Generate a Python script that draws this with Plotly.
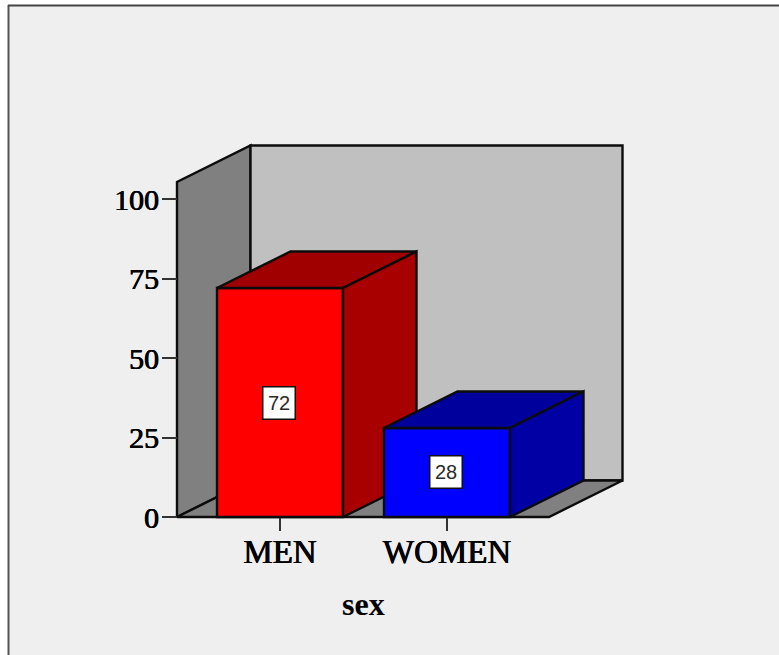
import plotly.graph_objects as go

# Chart data
categories = ["MEN", "WOMEN"]
percentages = [72, 28]
y_ticks = [0, 25, 50, 75, 100]

# Colours per bar: front, top, side
front_colors = ["#ff0000", "#0000ff"]
top_colors = ["#a00000", "#00009c"]
side_colors = ["#a80000", "#0000a4"]

# Canvas and axis geometry, in pixels
WIDTH, HEIGHT = 779, 655
AXIS_LEFT, AXIS_RIGHT, AXIS_BOTTOM, AXIS_TOP = 177, 549, 517, 182
PLOT_LEFT, PLOT_RIGHT, PLOT_BOTTOM, PLOT_TOP = 170, 630, 524, 138
CATEGORY_PX = 167
FIRST_CATEGORY_PX = 280
VALUE_PX = 3.18
OUTLINE = "#0c0c0c"


def x_at(px):
    return (px - FIRST_CATEGORY_PX) / CATEGORY_PX


def y_at(px):
    return (AXIS_BOTTOM - px) / VALUE_PX


x_range = [x_at(PLOT_LEFT), x_at(PLOT_RIGHT)]
y_range = [y_at(PLOT_BOTTOM), y_at(PLOT_TOP)]
x_domain = [PLOT_LEFT / WIDTH, PLOT_RIGHT / WIDTH]
y_domain = [(HEIGHT - PLOT_BOTTOM) / HEIGHT, (HEIGHT - PLOT_TOP) / HEIGHT]

# Oblique depth of the box, in axis units
depth_x = 73.5 / CATEGORY_PX
depth_y = 36.5 / VALUE_PX
bar_width = 126 / CATEGORY_PX


def polygon(xs, ys, fill, xaxis="x", yaxis="y"):
    return go.Scatter(
        x=xs + xs[:1], y=ys + ys[:1], mode="lines", fill="toself",
        fillcolor=fill, line=dict(color=OUTLINE, width=2.4),
        hoverinfo="skip", showlegend=False, xaxis=xaxis, yaxis=yaxis,
    )


fig = go.Figure()

# Box walls and floor
x0, x1 = x_at(AXIS_LEFT), x_at(AXIS_RIGHT)
y1 = y_at(AXIS_TOP)
fig.add_trace(polygon([x0, x0 + depth_x, x0 + depth_x, x0],
                      [0, depth_y, y1 + depth_y, y1], "#808080"))
fig.add_trace(polygon([x0 + depth_x, x1 + depth_x, x1 + depth_x, x0 + depth_x],
                      [depth_y, depth_y, y1 + depth_y, y1 + depth_y], "#c0c0c0"))
fig.add_trace(polygon([x0, x1, x1 + depth_x, x0 + depth_x],
                      [0, 0, depth_y, depth_y], "#808080"))

# Each bar sits on its own overlaying axes so later bars hide earlier ones
for i, value in enumerate(percentages):
    xa, ya = f"x{i + 2}", f"y{i + 2}"
    left, right = i - bar_width / 2, i + bar_width / 2
    fig.add_trace(go.Bar(
        x=[i], y=[value], width=[bar_width],
        marker=dict(color=front_colors[i], line=dict(color=OUTLINE, width=2.4)),
        hoverinfo="skip", showlegend=False, xaxis=xa, yaxis=ya,
    ))
    fig.add_trace(polygon([left, right, right + depth_x, left + depth_x],
                          [value, value, value + depth_y, value + depth_y],
                          top_colors[i], xa, ya))
    fig.add_trace(polygon([right, right + depth_x, right + depth_x, right],
                          [0, depth_y, value + depth_y, value],
                          side_colors[i], xa, ya))

serif = "Liberation Serif"
heavy = "0.5px 0 0 #000, -0.3px 0 0 #000"

fig.update_layout(
    width=WIDTH, height=HEIGHT, autosize=False,
    margin=dict(l=0, r=0, t=0, b=0),
    paper_bgcolor="white", plot_bgcolor="rgba(0,0,0,0)",
    showlegend=False, barmode="overlay",
    xaxis=dict(
        domain=x_domain, range=x_range, automargin=False,
        anchor="free", position=(HEIGHT - AXIS_BOTTOM) / HEIGHT,
        tickmode="array", tickvals=list(range(len(categories))),
        ticktext=categories, ticks="outside", ticklen=13, tickwidth=2,
        tickcolor="#333333", ticklabelstandoff=-8,
        tickfont=dict(family=serif, size=33, color="black", shadow=heavy),
        showline=False, showgrid=False, zeroline=False,
    ),
    yaxis=dict(
        domain=y_domain, range=y_range, automargin=False,
        anchor="free", position=AXIS_LEFT / WIDTH,
        tickmode="array", tickvals=y_ticks, ticks="outside", ticklen=15,
        tickwidth=2, tickcolor="#333333", ticklabelstandoff=-3,
        tickfont=dict(family=serif, size=30, color="black", shadow=heavy),
        showgrid=False, zeroline=False, showline=False,
    ),
    shapes=[
        dict(type="rect", xref="paper", yref="paper", layer="below",
             x0=8 / WIDTH, x1=1, y0=0, y1=1 - 5 / HEIGHT,
             fillcolor="#efefef", line=dict(width=0)),
        dict(type="line", xref="paper", yref="paper", layer="below",
             x0=8.5 / WIDTH, x1=8.5 / WIDTH, y0=0, y1=1 - 5 / HEIGHT,
             line=dict(color="#555555", width=2)),
        dict(type="line", xref="paper", yref="paper", layer="below",
             x0=8 / WIDTH, x1=1, y0=1 - 5.5 / HEIGHT, y1=1 - 5.5 / HEIGHT,
             line=dict(color="#444444", width=2)),
    ],
)

# Overlay axes share the base scale and stay invisible
hidden = dict(visible=False, showgrid=False, zeroline=False)
for i in range(len(percentages)):
    n = i + 2
    fig.update_layout({
        f"xaxis{n}": dict(domain=x_domain, range=x_range, overlaying="x",
                          anchor=f"y{n}", **hidden),
        f"yaxis{n}": dict(domain=y_domain, range=y_range, overlaying="y",
                          anchor=f"x{n}", **hidden),
    })

# Value labels at the middle of each bar
for i, value in enumerate(percentages):
    fig.add_annotation(
        x=i, y=value / 2, xref="x", yref="y", text=str(value), showarrow=False,
        xshift=-1,
        font=dict(family="Liberation Sans", size=20, color="#2a2a2a"),
        bgcolor="white", bordercolor="#111111", borderwidth=1.5,
        width=29, height=29, borderpad=1,
    )

# Axis title, centred under the front edge of the floor
fig.add_annotation(
    x=(AXIS_LEFT + AXIS_RIGHT) / 2 / WIDTH, y=(HEIGHT - 604) / HEIGHT,
    xref="paper", yref="paper", xanchor="center", yanchor="middle",
    text="<b>sex</b>", showarrow=False,
    font=dict(family=serif, size=32, color="black"),
)

fig.write_html("out.html")
